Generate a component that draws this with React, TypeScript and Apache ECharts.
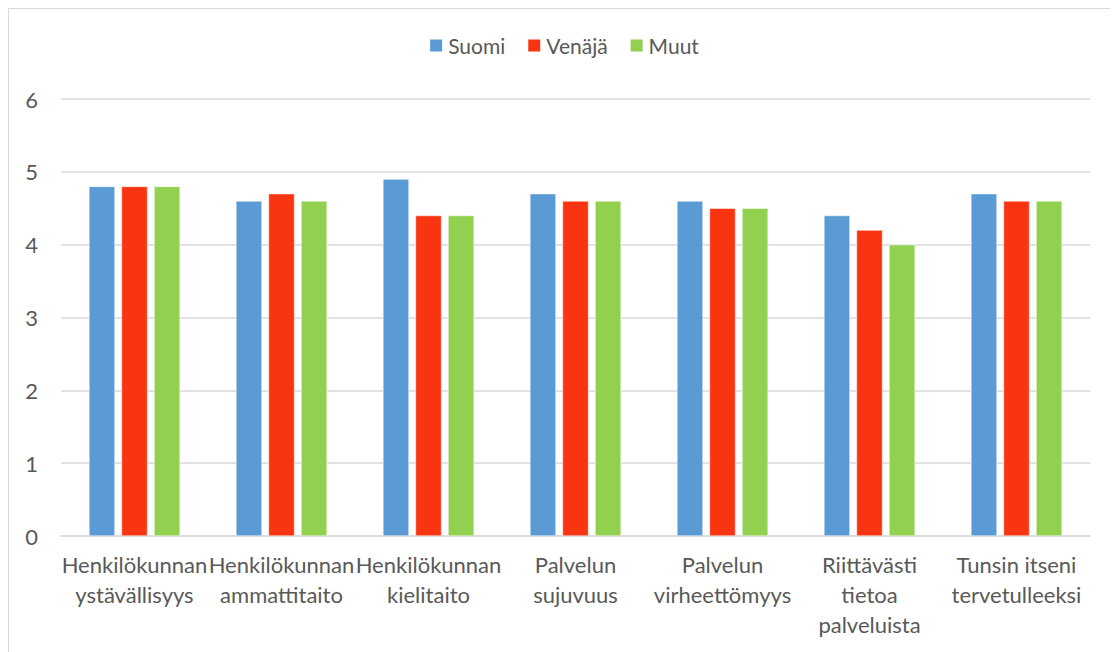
import React, { useEffect, useRef } from "react";
import * as echarts from "echarts";

const categories = [
  "Henkilökunnan\nystävällisyys",
  "Henkilökunnan\nammattitaito",
  "Henkilökunnan\nkielitaito",
  "Palvelun\nsujuvuus",
  "Palvelun\nvirheettömyys",
  "Riittävästi\ntietoa\npalveluista",
  "Tunsin itseni\ntervetulleeksi",
];
const seriesNames = ["Suomi", "Venäjä", "Muut"];
const suomi = [4.8, 4.6, 4.9, 4.7, 4.6, 4.4, 4.7];
const venaja = [4.8, 4.7, 4.4, 4.6, 4.5, 4.2, 4.6];
const muut = [4.8, 4.6, 4.4, 4.6, 4.5, 4.0, 4.6];
const colors = ["#5B9BD5", "#F93511", "#92D050"];

export default function App() {
  const ref = useRef<HTMLDivElement>(null);
  useEffect(() => {
    if (!ref.current) return;
    const chart = echarts.init(ref.current, null, { renderer: "svg" });
    const font = "Lato";
    const values = [suomi, venaja, muut];
    chart.setOption({
      animation: false,
      textStyle: { fontFamily: font },
      legend: {
        top: 21,
        left: "center",
        itemWidth: 14,
        itemHeight: 14,
        itemGap: 21,
        icon: "rect",
        textStyle: { fontFamily: font, fontSize: 21, color: "#595959" },
        data: seriesNames,
      },
      grid: { left: 52, right: 28, top: 90, bottom: 116, containLabel: false },
      xAxis: {
        type: "category",
        data: categories,
        axisLine: { lineStyle: { color: "#d9d9d9", width: 1.5 } },
        axisTick: { show: false },
        axisLabel: {
          fontFamily: font,
          fontSize: 22,
          color: "#595959",
          lineHeight: 30,
          margin: 13,
          interval: 0,
        },
      },
      yAxis: {
        type: "value",
        min: 0,
        max: 6,
        interval: 1,
        axisLine: { show: false },
        axisTick: { show: false },
        splitLine: { lineStyle: { color: "#d9d9d9", width: 1.5 } },
        axisLabel: { fontFamily: font, fontSize: 22, color: "#595959", margin: 23 },
      },
      series: seriesNames.map((name, i) => ({
        name,
        type: "bar",
        data: values[i],
        barGap: "25%",
        barCategoryGap: "38%",
        itemStyle: { color: colors[i], borderColor: "#ffffff", borderWidth: 0.5 },
      })),
    });
    return () => chart.dispose();
  }, []);
  return (
    <div
      ref={ref}
      style={{
        width: 1110,
        height: 644,
        borderLeft: "1px solid #d9d9d9",
        borderTop: "1px solid #d9d9d9",
        boxSizing: "border-box",
      }}
    />
  );
}
